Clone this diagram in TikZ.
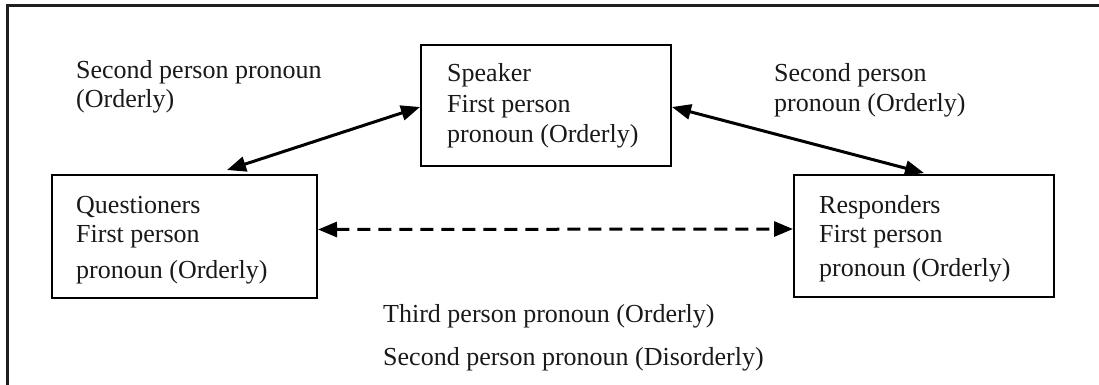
\documentclass[tikz,border=0pt]{standalone}
\usepackage{fontspec}
\setmainfont{Liberation Serif}
\usetikzlibrary{arrows.meta,calc}
\begin{document}
\begin{tikzpicture}[x=1pt,y=-1pt,
  box/.style={draw=black,line width=2pt,rectangle,inner sep=0,anchor=north west},
  txt/.style={anchor=base west,inner sep=0,text=black!90,font=\fontsize{26}{30}\selectfont},
  conn/.style={line width=3pt,{Triangle[length=19pt,width=15pt]}-{Triangle[length=19pt,width=15pt]}},
  frame/.style={line width=3pt,draw=black!88}]
\useasboundingbox (0,0) rectangle (1099,385);
% frame (open on right and bottom)
\coordinate (fbl) at (7,385);
\coordinate (ftl) at (7,6);
\coordinate (ftr) at (1099,6);
\draw[frame] (fbl) -- (ftl) -- (ftr);
% boxes
\node[box,minimum width=250pt,minimum height=121pt] (spk) at (420,44) {};
\node[box,minimum width=265pt,minimum height=123pt] (que) at (51,174) {};
\node[box,minimum width=260pt,minimum height=122pt] (res) at (793,174) {};
% box texts
\node[txt] (s1) at (447,82) {Speaker};
\node[txt] (s2) at (447,113) {First person};
\node[txt] (s3) at (447,142) {pronoun (Orderly)};
\node[txt] (q1) at (76,213) {Questioners};
\node[txt] (q2) at (76,242) {First person};
\node[txt] (q3) at (76,278) {pronoun (Orderly)};
\node[txt] (r1) at (819,213) {Responders};
\node[txt] (r2) at (819,242) {First person};
\node[txt] (r3) at (819,276) {pronoun (Orderly)};
% labels
\node[txt] (l1) at (76,79) {Second person pronoun};
\node[txt] (l2) at (76,108) {(Orderly)};
\node[txt] (m1) at (774,82) {Second person};
\node[txt] (m2) at (774,112) {pronoun (Orderly)};
\node[txt] (t1) at (383,322) {Third person pronoun (Orderly)};
\node[txt] (t2) at (383,365) {Second person pronoun (Disorderly)};
% connectors
\draw[conn] ($(que.north west)+(176,-4)$) -- ([yshift=-1.5pt]spk.west);
\draw[conn] ([yshift=-1.5pt]spk.east) -- ([yshift=1pt]res.north);
\draw[conn,dash pattern=on 13pt off 8pt] ([yshift=7pt]que.east) -- ([yshift=7pt]res.west);
\end{tikzpicture}
\end{document}
